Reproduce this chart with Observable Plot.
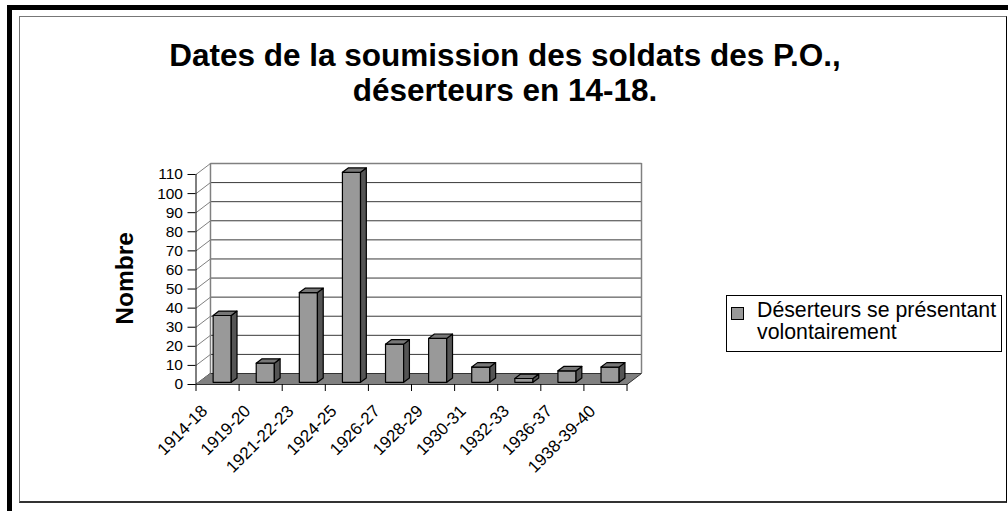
<!DOCTYPE html>
<html>
<head>
<meta charset="utf-8">
<script src="https://cdn.jsdelivr.net/npm/d3@7"></script>
<script src="https://cdn.jsdelivr.net/npm/@observablehq/plot@0.6"></script>
<style>
  html, body { margin: 0; padding: 0; background: #fff; }
  #wrap { position: relative; width: 1008px; height: 511px; overflow: hidden; background: #fff; font-family: "Liberation Sans", Arial, sans-serif; }
  .thickTop { position: absolute; left: 7px; top: 5px; width: 1001px; height: 5px; background: #000; }
  .thickLeft { position: absolute; left: 7px; top: 5px; width: 5px; height: 506px; background: #000; }
  .inner { position: absolute; left: 19px; top: 16px; width: 988px; height: 487px; box-sizing: border-box;
           border-top: 1px solid #777; border-left: 1px solid #777; border-right: 1px solid #000; border-bottom: 2px solid #333; }
  #title { position: absolute; left: 0; top: 38px; width: 1010px; text-align: center; font-weight: bold; font-size: 31.5px; line-height: 35px; color: #000; }
  #chart { position: absolute; left: 0; top: 140px; }
  #legend { position: absolute; left: 726px; top: 295px; width: 276px; height: 57px; box-sizing: border-box; border: 1px solid #000; background: #fff; }
  #legend .sw { position: absolute; left: 4px; top: 11px; width: 11px; height: 11px; background: #999; border: 1px solid #000; }
  #legend .tx { position: absolute; left: 30px; top: 3px; font-size: 21.3px; line-height: 22px; color: #000; white-space: nowrap; }
</style>
</head>
<body>
<div id="wrap">
  <div class="thickTop"></div>
  <div class="thickLeft"></div>
  <div class="inner"></div>
  <div id="title">Dates de la soumission des soldats des P.O.,<br>déserteurs en 14-18.</div>
  <div id="chart"></div>
  <div id="legend"><div class="sw"></div><div class="tx">Déserteurs se présentant<br>volontairement</div></div>
</div>
<script>
// ---- data ----
const categories = ["1914-18", "1919-20", "1921-22-23", "1924-25", "1926-27", "1928-29", "1930-31", "1932-33", "1936-37", "1938-39-40"];
const values = [35, 10, 47, 110, 20, 23, 8, 2, 6, 8];
const yTicks = [0, 10, 20, 30, 40, 50, 60, 70, 80, 90, 100, 110];
const yMax = 110;

// ---- 3D depth (in data units) ----
const DX = 0.336, DY = 5.76;
const BL = 0.33, BR = 0.75, F1 = 0.2, F2 = 0.6;
const n = categories.length;
const P = (x, y, f, id) => ({x: x + f * DX, y: y + f * DY, id});

const faceFront = [], faceSide = [], faceTop = [];
values.forEach((v, i) => {
  const x0 = i + BL, x1 = i + BR;
  faceFront.push(P(x0, 0, F1, i), P(x1, 0, F1, i), P(x1, v, F1, i), P(x0, v, F1, i));
  faceSide.push(P(x1, 0, F1, i), P(x1, 0, F2, i), P(x1, v, F2, i), P(x1, v, F1, i));
  faceTop.push(P(x0, v, F1, i), P(x1, v, F1, i), P(x1, v, F2, i), P(x0, v, F2, i));
});
const floorPoly = [P(0, 0, 0, 0), P(n, 0, 0, 0), P(n, 0, 1, 0), P(0, 0, 1, 0)];
const backLines = yTicks.filter(t => t > 0 && t < yMax);
const centers = categories.map((c, i) => i + 0.5);
const bounds = d3.range(n + 1);

const chart = Plot.plot({
  width: 1008,
  height: 360,
  marginLeft: 195.5,
  marginRight: 367,
  marginTop: 23,
  marginBottom: 116,
  style: {fontFamily: "'Liberation Sans', Arial, sans-serif", background: "transparent", color: "#000", overflow: "visible"},
  x: {domain: [0, n + DX], axis: null},
  y: {domain: [0, yMax + DY], axis: null},
  marks: [
    Plot.line(floorPoly, {x: "x", y: "y", z: "id", fill: "#808080", stroke: "#333", strokeWidth: 1, curve: "linear-closed"}),
    Plot.link(yTicks, {x1: 0, y1: d => d, x2: DX, y2: d => d + DY, stroke: "#808080", strokeWidth: 1}),
    Plot.link(backLines, {x1: DX, y1: d => d + DY, x2: n + DX, y2: d => d + DY, stroke: "#3a3a3a", strokeWidth: 1}),
    Plot.link([yMax], {x1: DX, y1: d => d + DY, x2: n + DX, y2: d => d + DY, stroke: "#808080", strokeWidth: 1.5}),
    Plot.ruleX([DX, n + DX], {y1: DY, y2: yMax + DY, stroke: "#808080", strokeWidth: 1.5}),
    Plot.ruleX([0], {y1: 0, y2: yMax, stroke: "#000", strokeWidth: 1}),
    Plot.line(faceFront, {x: "x", y: "y", z: "id", fill: "#999999", stroke: "#000", strokeWidth: 1.2, curve: "linear-closed"}),
    Plot.line(faceSide, {x: "x", y: "y", z: "id", fill: "#555555", stroke: "#000", strokeWidth: 1.2, curve: "linear-closed"}),
    Plot.line(faceTop, {x: "x", y: "y", z: "id", fill: "#777777", stroke: "#000", strokeWidth: 1.2, curve: "linear-closed"}),
    Plot.axisY({ticks: yTicks, tickSize: 8, tickPadding: 5, fontSize: 15.5, label: null, stroke: "#000"}),
    Plot.axisX({ticks: bounds, tickSize: 7, tickFormat: () => "", label: null, stroke: "#000"}),
    Plot.axisX({ticks: centers, tickSize: 0, tickRotate: -45, tickFormat: d => categories[Math.floor(d)], fontSize: 17, label: null, dx: -13, dy: 12}),
    Plot.text(["Nombre"], {frameAnchor: "left", textAnchor: "middle", dx: -70.5, dy: 4.5, rotate: -90, fontSize: 24.5, fontWeight: "bold", fill: "#000"})
  ]
});
document.getElementById("chart").appendChild(chart);
</script>
</body>
</html>
